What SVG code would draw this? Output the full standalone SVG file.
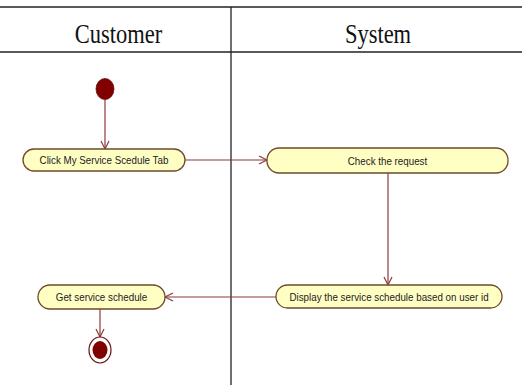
<svg xmlns="http://www.w3.org/2000/svg" width="522" height="385" viewBox="0 0 522 385">
<style>
.lane{stroke:#222;stroke-width:1.3;fill:none}
.hdr{font-family:"Liberation Serif",serif;font-size:22.5px;fill:#111;text-anchor:middle}
.act rect{fill:#ffffc4;stroke:#6e4b2a;stroke-width:1.3}
.act text{font-family:"Liberation Sans",Arial,sans-serif;font-size:9.8px;fill:#222;text-anchor:middle}
.flow{stroke:#8b3a3a;stroke-width:1.2;fill:none;marker-end:url(#open)}
</style>
<defs>
<marker id="open" markerUnits="userSpaceOnUse" markerWidth="10" markerHeight="10" refX="8" refY="4" orient="auto" overflow="visible">
<path d="M0,0 L8,4 L0,8" fill="none" stroke="#8b3a3a" stroke-width="1.2"/>
</marker>
</defs>
<rect width="522" height="385" fill="#fff"/>
<g id="swimlanes">
<line class="lane" x1="0" y1="7" x2="522" y2="7"/>
<line class="lane" x1="0" y1="52" x2="522" y2="52"/>
<line class="lane" x1="231" y1="7" x2="231" y2="385"/>
<text class="hdr" transform="translate(118.5,43) scale(1,1.22)">Customer</text>
<text class="hdr" transform="translate(378,43) scale(1,1.22)">System</text>
</g>
<g id="connectors">
<line class="flow" x1="105" y1="99.5" x2="105" y2="149"/>
<line class="flow" x1="185" y1="160" x2="267" y2="160"/>
<line class="flow" x1="388" y1="173" x2="388" y2="285"/>
<line class="flow" x1="276" y1="297" x2="165" y2="297"/>
<line class="flow" x1="100" y1="309" x2="100" y2="337"/>
</g>
<g id="start">
<ellipse cx="105" cy="89" rx="9" ry="10.5" fill="#800000" stroke="#6b1010" stroke-width="0.8"/>
</g>
<g id="click" class="act">
<rect x="23" y="149" width="162" height="22" rx="11" ry="11"/>
<text transform="translate(104,164) scale(1,1.2)">Click My Service Scedule Tab</text>
</g>
<g id="check" class="act">
<rect x="267" y="148" width="241" height="25" rx="12" ry="12"/>
<text transform="translate(387.5,165) scale(1,1.2)">Check the request</text>
</g>
<g id="display" class="act">
<rect x="276" y="285" width="226" height="23" rx="11.5" ry="11.5"/>
<text transform="translate(389,301) scale(1,1.2)">Display the service schedule based on user id</text>
</g>
<g id="get" class="act">
<rect x="38" y="285" width="127" height="24" rx="12" ry="12"/>
<text transform="translate(101.5,301) scale(1,1.2)">Get service schedule</text>
</g>
<g id="end">
<ellipse cx="100" cy="350" rx="11" ry="13" fill="#fff" stroke="#6b1010" stroke-width="1.2"/>
<ellipse cx="100" cy="350" rx="7.5" ry="9" fill="#800000"/>
</g>
</svg>
